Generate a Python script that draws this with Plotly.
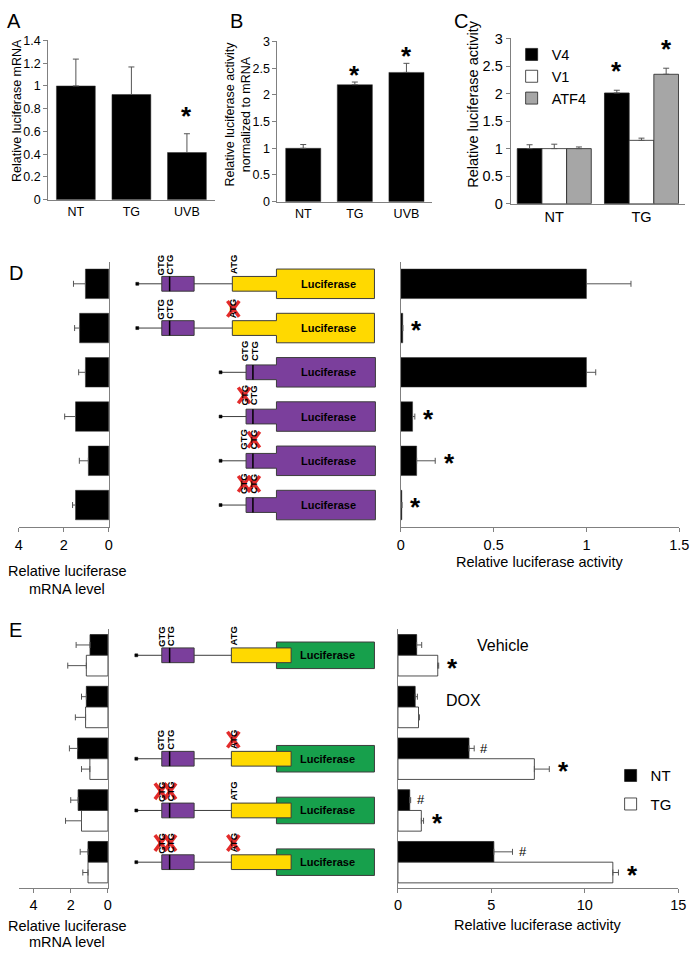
import plotly.graph_objects as go

W, H = 700, 957
FONT = "Liberation Sans"
AXC = "#808080"
ERRC = "#555555"

# ---------------- data ----------------
a_cats = ["NT", "TG", "UVB"]
a_vals = [1.0, 0.925, 0.415]
a_err = [0.236, 0.242, 0.165]
a_sig = [False, False, True]

b_cats = ["NT", "TG", "UVB"]
b_vals = [1.0, 2.19, 2.42]
b_err = [0.07, 0.05, 0.17]
b_sig = [False, True, True]

c_cats = ["NT", "TG"]
c_names = ["V4", "V1", "ATF4"]
c_v4 = [1.0, 2.01]
c_v4_err = [0.07, 0.05]
c_v1 = [1.0, 1.15]
c_v1_err = [0.08, 0.04]
c_atf4 = [1.0, 2.35]
c_atf4_err = [0.03, 0.11]
c_sig = {"V4": [False, True], "V1": [False, False], "ATF4": [False, True]}

d_constructs = ["uORF-ATG", "uORF-mATG", "dATG", "dATG-mGTG", "dATG-mCTG", "dATG-mGTG-mCTG"]
d_mrna = [1.04, 1.30, 1.04, 1.48, 0.91, 1.48]
d_mrna_err = [0.53, 0.22, 0.30, 0.48, 0.40, 0.13]
d_act = [1.0, 0.01, 1.0, 0.063, 0.085, 0.005]
d_act_err = [0.24, 0.0, 0.05, 0.012, 0.10, 0.0]
d_sig = [False, True, False, True, True, True]
d_type = ["Y", "Y", "P", "P", "P", "P"]
d_mut = [[], ["ATG"], [], ["GTG"], ["CTG"], ["GTG", "CTG"]]

e_groups = ["Vehicle", "DOX", "mATG", "mGTG-mCTG", "mGTG-mCTG-mATG"]
e_mrna_nt = [0.96, 1.16, 1.63, 1.60, 1.07]
e_mrna_nt_err = [0.75, 0.26, 0.44, 0.40, 0.42]
e_mrna_tg = [1.16, 1.20, 0.97, 1.42, 1.07]
e_mrna_tg_err = [1.00, 0.55, 0.45, 0.86, 0.28]
e_act_nt = [1.0, 0.92, 3.8, 0.63, 5.13]
e_act_nt_err = [0.27, 0.12, 0.28, 0.05, 1.0]
e_act_tg = [2.13, 1.10, 7.3, 1.25, 11.5]
e_act_tg_err = [0.05, 0.05, 0.8, 0.12, 0.3]
e_hash_nt = [False, False, True, True, True]
e_star_tg = [True, False, True, True, True]
e_diagram = [True, False, True, True, True]
e_mut = [[], [], ["ATG"], ["GTG", "CTG"], ["GTG", "CTG", "ATG"]]

# ---------------- helpers ----------------
def px(x):
    return x / W

def py(y):
    return 1 - y / H

def err(arr):
    return dict(type="data", array=arr, arrayminus=[0] * len(arr), symmetric=False,
                color=ERRC, thickness=1, width=3)

fig = go.Figure()
ann = []
shapes = []

def star(text="<b>*</b>", size=26, **kw):
    d = dict(text=text, showarrow=False, font=dict(family=FONT, size=size, color="black"))
    d.update(kw)
    ann.append(d)

# ---------------- A ----------------
fig.add_trace(go.Bar(x=a_cats, y=a_vals, error_y=err(a_err), width=0.7,
                     marker=dict(color="black", line=dict(color="#333", width=0.5)),
                     xaxis="x", yaxis="y", showlegend=False))
for c, v, e, s in zip(a_cats, a_vals, a_err, a_sig):
    if s:
        star(x=c, y=v + e, xref="x", yref="y", yanchor="middle", yshift=18)

# ---------------- B ----------------
fig.add_trace(go.Bar(x=b_cats, y=b_vals, error_y=err(b_err), width=0.68,
                     marker=dict(color="black", line=dict(color="#333", width=0.5)),
                     xaxis="x2", yaxis="y2", showlegend=False))
for c, v, e, s in zip(b_cats, b_vals, b_err, b_sig):
    if s:
        star(x=c, y=v + e, xref="x2", yref="y2", yanchor="middle", yshift=7)

# ---------------- C ----------------
c_w = 0.283
c_series = [(c_v4, c_v4_err, "black"), (c_v1, c_v1_err, "white"), (c_atf4, c_atf4_err, "#a6a6a6")]
for i, (name, (vals, errs, col)) in enumerate(zip(c_names, c_series)):
    off = -1.5 * c_w + i * c_w
    fig.add_trace(go.Bar(x=c_cats, y=vals, error_y=err(errs), width=c_w, offset=off, name=name,
                         marker=dict(color=col, line=dict(color="#222", width=0.8)),
                         xaxis="x3", yaxis="y3", legend="legend", legendgroup=name))
    for c, v, e, s in zip(c_cats, vals, errs, c_sig[name]):
        if s:
            star(x=c, y=v + e, xref="x3", yref="y3", yanchor="middle", yshift=19,
                 xshift=(i - 1) * 25.2)

# ---------------- D ----------------
fig.add_trace(go.Bar(y=d_constructs, x=d_mrna, orientation="h", error_x=err(d_mrna_err), width=0.667,
                     marker=dict(color="black", line=dict(color="#333", width=0.5)),
                     xaxis="x4", yaxis="y4", showlegend=False))
fig.add_trace(go.Bar(y=d_constructs, x=d_act, orientation="h", error_x=err(d_act_err), width=0.667,
                     marker=dict(color="black", line=dict(color="#333", width=0.5)),
                     xaxis="x5", yaxis="y5", showlegend=False))
for c, v, e, s in zip(d_constructs, d_act, d_act_err, d_sig):
    if s:
        star(x=v + e, y=c, xref="x5", yref="y5", xanchor="center", yanchor="middle",
             xshift=14, yshift=-2)

# ---------------- E ----------------
e_w = 0.4
for vals, errs, col, off in [(e_mrna_nt, e_mrna_nt_err, "black", -e_w), (e_mrna_tg, e_mrna_tg_err, "white", 0)]:
    fig.add_trace(go.Bar(y=e_groups, x=vals, orientation="h", error_x=err(errs), width=e_w, offset=off,
                         marker=dict(color=col, line=dict(color="#222", width=0.8)),
                         xaxis="x6", yaxis="y6", showlegend=False))
for name, vals, errs, col, off in [("NT", e_act_nt, e_act_nt_err, "black", -e_w),
                                   ("TG", e_act_tg, e_act_tg_err, "white", 0)]:
    fig.add_trace(go.Bar(y=e_groups, x=vals, orientation="h", error_x=err(errs), width=e_w, offset=off,
                         name=name, marker=dict(color=col, line=dict(color="#222", width=0.8)),
                         xaxis="x7", yaxis="y7", legend="legend2", legendgroup=name))
for g, v, e, s in zip(e_groups, e_act_nt, e_act_nt_err, e_hash_nt):
    if s:
        star(text="#", size=13, x=v + e, y=g, xref="x7", yref="y7", xanchor="center",
             yanchor="middle", xshift=10, yshift=10.5)
for g, v, e, s in zip(e_groups, e_act_tg, e_act_tg_err, e_star_tg):
    if s:
        star(x=v + e, y=g, xref="x7", yref="y7", xanchor="center", yanchor="middle",
             xshift=14, yshift=-10.5 - 2)
star(text="Vehicle", size=16, x=5.6, y="Vehicle", xref="x7", yref="y7", xanchor="center",
     yanchor="middle", yshift=10)
star(text="DOX", size=16, x=3.5, y="DOX", xref="x7", yref="y7", xanchor="center",
     yanchor="middle", yshift=7)

# ---------------- diagrams ----------------
PURPLE = "#7b3f9c"
YELLOW = "#ffd900"
GREEN = "#17a04c"
OUT = "#3c3c3c"
RED = "#e32b2b"

def rect(x0, x1, y0, y1, fill, lw=1, lc=OUT):
    shapes.append(dict(type="rect", xref="paper", yref="paper", x0=px(x0), x1=px(x1),
                       y0=py(y1), y1=py(y0), fillcolor=fill, line=dict(color=lc, width=lw), layer="above"))

def line(x0, y0, x1, y1, color=OUT, width=1):
    shapes.append(dict(type="line", xref="paper", yref="paper", x0=px(x0), x1=px(x1),
                       y0=py(y0), y1=py(y1), line=dict(color=color, width=width), layer="above"))

def step_shape(xs, xm, xe, yc, hn, hw, fill):
    pts = [(xs, yc - hn), (xm, yc - hn), (xm, yc - hw), (xe, yc - hw), (xe, yc + hw),
           (xm, yc + hw), (xm, yc + hn), (xs, yc + hn)]
    path = "M " + " L ".join(f"{px(x):.5f},{py(y):.5f}" for x, y in pts) + " Z"
    shapes.append(dict(type="path", xref="paper", yref="paper", path=path, fillcolor=fill,
                       line=dict(color=OUT, width=1), layer="above"))

def codon(txt, x, y):
    ann.append(dict(text=f"<b>{txt}</b>", x=px(x), y=py(y), xref="paper", yref="paper",
                    showarrow=False, textangle=-90, xanchor="center", yanchor="middle",
                    font=dict(family=FONT, size=9.5, color="black")))

def cross(x, y):
    line(x - 6, y - 8, x + 6, y + 8, RED, 3.5)
    line(x - 6, y + 8, x + 6, y - 8, RED, 3.5)

def luc(x, y):
    ann.append(dict(text="<b>Luciferase</b>", x=px(x), y=py(y), xref="paper", yref="paper",
                    showarrow=False, xanchor="center", yanchor="middle",
                    font=dict(family=FONT, size=11, color="black")))

def dot(x, y):
    rect(x - 1.5, x + 1.5, y - 1.5, y + 1.5, "black", 0.5, "black")

def draw_Y(yc, muts):
    line(136, yc, 233, yc)
    dot(136, yc)
    rect(161, 194, yc - 7.5, yc + 7.5, PURPLE)
    line(169, yc - 7.5, 169, yc + 7.5, "black", 1.5)
    step_shape(233, 278, 378, yc, 7.5, 15, YELLOW)
    luc(331, yc)
    pos = {"GTG": 160, "CTG": 169.5, "ATG": 234}
    for k, x in pos.items():
        codon(k, x, yc - 19.5)
    for m in muts:
        cross(pos[m], yc - 19.5)

def draw_P(yc, muts):
    line(221, yc, 247, yc)
    dot(221, yc)
    step_shape(247, 278, 379, yc, 7.5, 15, PURPLE)
    line(254, yc - 7.5, 254, yc + 7.5, "black", 1.5)
    luc(331, yc)
    pos = {"GTG": 245, "CTG": 255}
    for k, x in pos.items():
        codon(k, x, yc - 21.5)
    for m in muts:
        cross(pos[m], yc - 21.5)

def draw_G(yc, muts):
    line(135, yc, 232, yc)
    dot(135, yc)
    rect(161, 194, yc - 7.5, yc + 7.5, PURPLE)
    line(169, yc - 7.5, 169, yc + 7.5, "black", 1.5)
    rect(278, 378, yc - 13.5, yc + 13.5, GREEN)
    rect(232, 293, yc - 7.5, yc + 7.5, YELLOW)
    luc(330, yc)
    pos = {"GTG": 160, "CTG": 169.5, "ATG": 234}
    for k, x in pos.items():
        codon(k, x, yc - 19.5)
    for m in muts:
        cross(pos[m], yc - 19.5)

# pixel geometry of panel rows
D_TOP, D_BOT = 258, 528
E_TOP, E_BOT = 632, 895
d_step = (D_BOT - D_TOP) / len(d_constructs)
for i, (t, m) in enumerate(zip(d_type, d_mut)):
    yc = D_TOP + (i + 0.5) * d_step
    (draw_Y if t == "Y" else draw_P)(yc, m)
e_step = (E_BOT - E_TOP) / len(e_groups)
for i, (show, m) in enumerate(zip(e_diagram, e_mut)):
    if show:
        draw_G(E_TOP + (i + 0.5) * e_step, m)

# ---------------- text labels ----------------
def label(text, x, y, size=14.5, angle=0, **kw):
    d = dict(text=text, x=px(x), y=py(y), xref="paper", yref="paper", showarrow=False,
             textangle=angle, xanchor="center", yanchor="middle",
             font=dict(family=FONT, size=size, color="black"))
    d.update(kw)
    ann.append(d)

for t, x, y in [("A", 10, 13), ("B", 237, 13), ("C", 466, 13), ("D", 12, 270), ("E", 12, 633)]:
    label(t, x, y, size=20)

label("Relative luciferase mRNA", 14, 104, size=12.5, angle=-90)
label("Relative luciferase activity<br>normalized to mRNA", 239, 108, size=12.5, angle=-90)
label("Relative luciferase activity", 479, 97, size=14.5, angle=-90)
label("Relative luciferase", 64, 573, size=14.5)
label("mRNA level", 64, 591, size=14.5)
label("Relative luciferase activity", 547, 563, size=14.5)
label("Relative luciferase", 64, 934, size=14.5)
label("mRNA level", 64, 950, size=14.5)
label("Relative luciferase activity", 545, 933, size=14.5)

# ---------------- axes ----------------
def xax(x0, x1, anchor, **kw):
    d = dict(domain=[px(x0), px(x1)], anchor=anchor, showline=True, linecolor=AXC, linewidth=1,
             showgrid=False, zeroline=False, ticks="outside", ticklen=4, tickcolor=AXC,
             tickfont=dict(family=FONT, size=14.5, color="black"), fixedrange=True)
    d.update(kw)
    return d

def yax(y0, y1, anchor, **kw):
    d = dict(domain=[py(y1), py(y0)], anchor=anchor, showline=True, linecolor=AXC, linewidth=1,
             showgrid=False, zeroline=False, ticks="outside", ticklen=4, tickcolor=AXC,
             tickfont=dict(family=FONT, size=14.5, color="black"), fixedrange=True)
    d.update(kw)
    return d

layout = dict(
    width=W, height=H, margin=dict(l=0, r=0, t=0, b=0, pad=0),
    paper_bgcolor="white", plot_bgcolor="rgba(0,0,0,0)",
    font=dict(family=FONT, color="black"),
    barmode="overlay", hovermode=False,
    xaxis=xax(45, 215, "y", ticks="", range=[-0.5, 2.5], tickfont=dict(family=FONT, size=12.5)),
    yaxis=yax(33, 195, "x", range=[0, 1.4], dtick=0.2, tickfont=dict(family=FONT, size=12.5)),
    xaxis2=xax(279, 437, "y2", ticks="", range=[-0.5, 2.5], tickfont=dict(family=FONT, size=12.5)),
    yaxis2=yax(34, 197, "x2", range=[0, 3], dtick=0.5, tickfont=dict(family=FONT, size=12.5)),
    xaxis3=xax(517, 695, "y3", ticks="", range=[-0.5, 1.5]),
    yaxis3=yax(31, 199, "x3", range=[0, 3], dtick=0.5),
    xaxis4=xax(15, 107, "y4", range=[4, 0], tickvals=[0, 2, 4]),
    yaxis4=yax(D_TOP, D_BOT, "x4", side="right", ticks="", showticklabels=False,
               range=[len(d_constructs) - 0.5, -0.5]),
    xaxis5=xax(405, 689, "y5", range=[0, 1.5], tickvals=[0, 0.5, 1, 1.5]),
    yaxis5=yax(D_TOP, D_BOT, "x5", ticks="", showticklabels=False,
               range=[len(d_constructs) - 0.5, -0.5]),
    xaxis6=xax(15, 106, "y6", range=[4.8, 0], tickvals=[0, 2, 4]),
    yaxis6=yax(E_TOP, E_BOT, "x6", side="right", ticks="", showticklabels=False,
               range=[len(e_groups) - 0.5, -0.5]),
    xaxis7=xax(402, 688, "y7", range=[0, 15], tickvals=[0, 5, 10, 15]),
    yaxis7=yax(E_TOP, E_BOT, "x7", ticks="", showticklabels=False,
               range=[len(e_groups) - 0.5, -0.5]),
    legend=dict(x=px(518), y=py(31), xanchor="left", yanchor="top", bgcolor="rgba(0,0,0,0)",
                font=dict(family=FONT, size=14.5, color="black"), tracegroupgap=0, itemwidth=30),
    legend2=dict(x=px(619), y=py(764), xanchor="left", yanchor="top", bgcolor="rgba(0,0,0,0)",
                 font=dict(family=FONT, size=15, color="black"), tracegroupgap=6, itemwidth=30),
    annotations=ann, shapes=shapes,
)
fig.update_layout(**layout)
fig.write_html("out.html", config={"displayModeBar": False, "staticPlot": True},
               post_script="document.body.style.margin='0px';document.body.style.overflow='hidden';")
